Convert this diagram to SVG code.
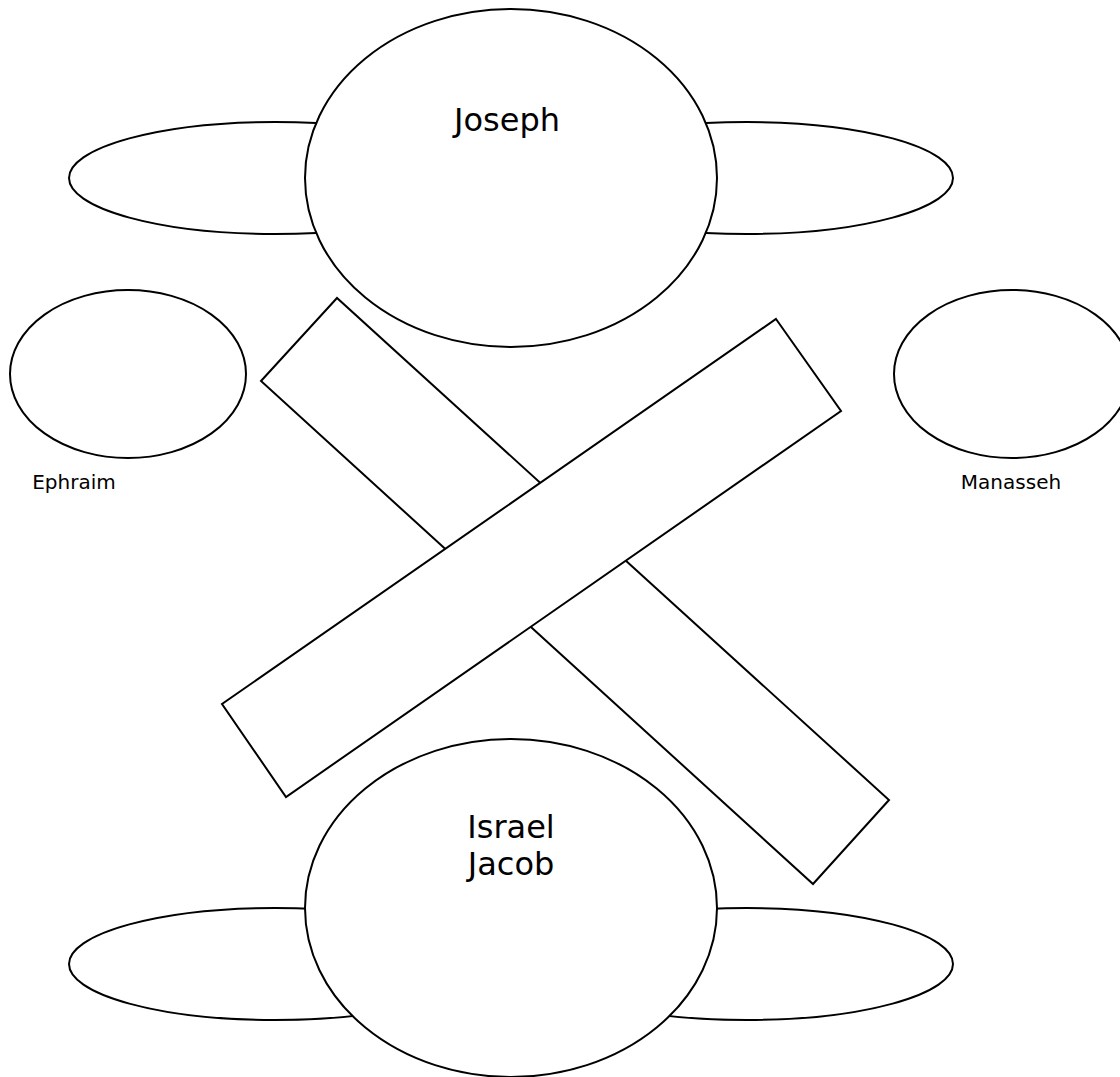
<svg xmlns="http://www.w3.org/2000/svg" width="1120" height="1077" viewBox="0 0 1120 1077">
<style>
.s{fill:#fff;stroke:#000;stroke-width:2}
.t{font-family:"DejaVu Sans",Verdana,sans-serif;fill:#000;text-anchor:middle}
.big{font-size:32px}
.small{font-size:20px}
</style>
<rect width="1120" height="1077" fill="#fff"/>
<g id="joseph">
<ellipse class="s" cx="275" cy="178" rx="206" ry="56"/>
<ellipse class="s" cx="747" cy="178" rx="206" ry="56"/>
<ellipse class="s" cx="511" cy="178" rx="206" ry="169"/>
<text class="t big" x="507" y="131">Joseph</text>
</g>
<g id="ephraim">
<ellipse class="s" cx="128" cy="374" rx="118" ry="84"/>
<text class="t small" x="74" y="489">Ephraim</text>
</g>
<g id="manasseh">
<ellipse class="s" cx="1012" cy="374" rx="118" ry="84"/>
<text class="t small" x="1011" y="489">Manasseh</text>
</g>
<g id="connectors">
<polygon class="s" points="337,298 261,381 813,884 889,800"/>
<polygon class="s" points="776,319 841,411 286,797 222,704"/>
</g>
<g id="israel">
<ellipse class="s" cx="275" cy="964" rx="206" ry="56"/>
<ellipse class="s" cx="747" cy="964" rx="206" ry="56"/>
<ellipse class="s" cx="511" cy="908" rx="206" ry="169"/>
<text class="t big" x="511" y="838">Israel</text>
<text class="t big" x="511" y="875">Jacob</text>
</g>
</svg>
